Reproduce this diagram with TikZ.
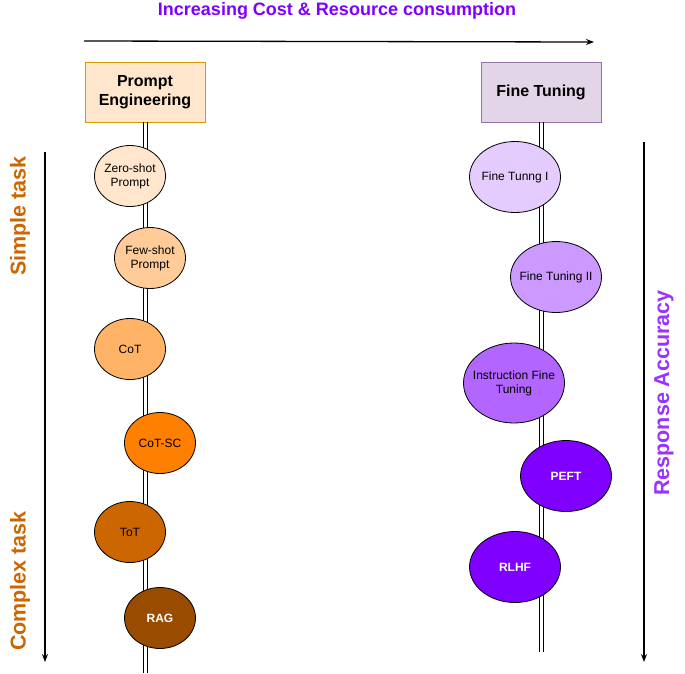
\documentclass[tikz,border=0pt]{standalone}
\usepackage{fontspec}
\setmainfont{Liberation Sans}
\usetikzlibrary{arrows.meta,shapes.geometric}
\definecolor{titlec}{HTML}{7F00FF}
\definecolor{accc}{HTML}{9933FF}
\definecolor{taskc}{HTML}{CC6600}
\definecolor{pefill}{HTML}{FFE6CC}
\definecolor{pedraw}{HTML}{D79B00}
\definecolor{ftfill}{HTML}{E1D5E7}
\definecolor{ftdraw}{HTML}{9673A6}
\definecolor{pa}{HTML}{FFE6CC}
\definecolor{pb}{HTML}{FFCC99}
\definecolor{pc}{HTML}{FFB366}
\definecolor{pd}{HTML}{FF8000}
\definecolor{pee}{HTML}{CC6600}
\definecolor{pf}{HTML}{994C00}
\definecolor{fa}{HTML}{E5CCFF}
\definecolor{fb}{HTML}{CC99FF}
\definecolor{fc}{HTML}{B266FF}
\definecolor{fd}{HTML}{7F00FF}
\tikzset{
  hdr/.style={draw, line width=0.8pt, minimum width=120pt, minimum height=60pt, align=center, font=\fontsize{16}{19}\selectfont\bfseries},
  ell/.style={ellipse, draw, line width=0.8pt, inner xsep=-6pt, inner ysep=0pt, align=center, font=\fontsize{12}{14}\selectfont},
  rail/.style={line width=0.9pt},
  axis/.style={line width=1.3pt, -{Stealth[length=8pt,width=6pt]}},
  side/.style={rotate=90, font=\fontsize{21.5}{24}\selectfont\bfseries},
  boldw/.style={text=white, font=\fontsize{12}{14}\selectfont\bfseries}
}
\begin{document}
\begin{tikzpicture}[x=1pt,y=-1pt]
\useasboundingbox (0,0) rectangle (685,673);
% title and top arrow
\node[text=titlec, font=\fontsize{18}{21}\selectfont\bfseries] (title) at (337,11) {Increasing Cost \& Resource consumption};
\coordinate (ha) at (84,41);
\coordinate (hb) at (594,42);
\draw[axis] (ha) -- (hb);
% headers
\node[hdr, fill=pefill, draw=pedraw] (pe) at (145,92) {Prompt\\Engineering};
\node[hdr, fill=ftfill, draw=ftdraw] (ft) at (541,92) {Fine Tuning};
% rails (double lines)
\coordinate (peend) at (145,673);
\coordinate (ftend) at (541,652);
\draw[rail] ([xshift=-2pt]pe.south) -- ([xshift=-2pt]peend);
\draw[rail] ([xshift=2pt]pe.south) -- ([xshift=2pt]peend);
\draw[rail] ([xshift=-2pt]ft.south) -- ([xshift=-2pt]ftend);
\draw[rail] ([xshift=2pt]ft.south) -- ([xshift=2pt]ftend);
% side arrows
\coordinate (la) at (45,152);
\coordinate (lb) at (45,662);
\draw[axis] (la) -- (lb);
\coordinate (ra) at (644,142);
\coordinate (rb) at (644,662);
\draw[axis] (ra) -- (rb);
\node[side, text=taskc] (simple) at (20,216) {Simple task};
\node[side, text=taskc] (complex) at (20,581) {Complex task};
\node[side, text=accc] (acc) at (664,393) {Response Accuracy};
% prompt engineering ellipses
\tikzset{pe ell/.style={ell, minimum width=71pt, minimum height=61pt}}
\node[pe ell, fill=pa] (zs) at (130,176) {Zero-shot\\Prompt};
\node[pe ell, fill=pb] (fs) at (150,258) {Few-shot\\Prompt};
\node[pe ell, fill=pc] (cot) at (130,349) {CoT};
\node[pe ell, fill=pd] (cotsc) at (160,443) {CoT-SC};
\node[pe ell, fill=pee] (tot) at (130,532) {ToT};
\node[pe ell, fill=pf, boldw] (rag) at (160,618) {RAG};
% fine tuning ellipses
\tikzset{ft ell/.style={ell, minimum width=91pt, minimum height=71pt}}
\node[ft ell, fill=fa] (ft1) at (515,177) {Fine Tunng I};
\node[ft ell, fill=fb] (ft2) at (556,277) {Fine Tuning II};
\node[ell, minimum width=101pt, minimum height=80pt, fill=fc] (ift) at (514,383) {Instruction Fine\\Tuning};
\node[ft ell, fill=fd, boldw] (peft) at (566,476) {PEFT};
\node[ft ell, fill=fd, boldw] (rlhf) at (515,567) {RLHF};
\end{tikzpicture}
\end{document}
